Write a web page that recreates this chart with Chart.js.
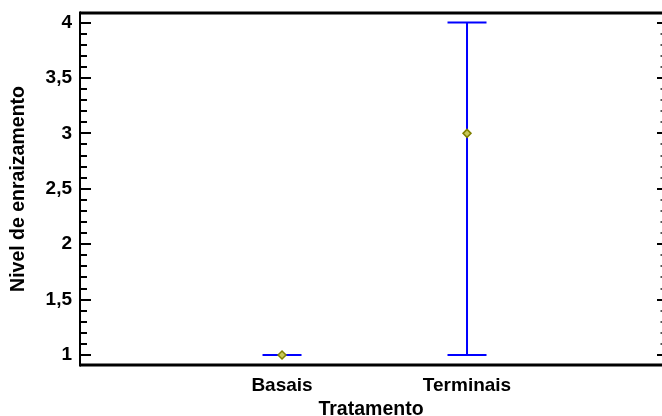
<!DOCTYPE html>
<html>
<head>
<meta charset="utf-8">
<script src="https://cdn.jsdelivr.net/npm/chart.js@4"></script>
<style>
  body { margin: 0; background: #fff; }
  canvas { display: block; }
</style>
</head>
<body>
<canvas id="grafico" width="662" height="416"></canvas>
<script>
// Médias e intervalos por tratamento
const tratamentos = ['Basais', 'Terminais'];
const posicoes = [1, 2];
const medias = [1, 3];
const limInf = [1, 1];
const limSup = [1, 4];
const yTicks = [1, 1.5, 2, 2.5, 3, 3.5, 4];

const fonte = 'Liberation Sans, Arial, sans-serif';

// Barras de erro com traços horizontais nas pontas
const barrasErro = {
  id: 'barrasErro',
  beforeDatasetsDraw(chart) {
    const ctx = chart.ctx;
    const x = chart.scales.x, y = chart.scales.y;
    ctx.save();
    ctx.strokeStyle = '#0000ff';
    ctx.lineWidth = 2;
    posicoes.forEach((p, i) => {
      const px = x.getPixelForValue(p);
      const y0 = y.getPixelForValue(limInf[i]);
      const y1 = y.getPixelForValue(limSup[i]);
      const w = 19.5;
      ctx.beginPath();
      ctx.moveTo(px, y0); ctx.lineTo(px, y1);
      ctx.moveTo(px - w, y0); ctx.lineTo(px + w, y0);
      ctx.moveTo(px - w, y1); ctx.lineTo(px + w, y1);
      ctx.stroke();
    });
    ctx.restore();
  }
};

// Moldura e marcas dos eixos (maiores a cada 0,5, menores a cada 0,1)
const eixos = {
  id: 'eixos',
  afterDraw(chart) {
    const ctx = chart.ctx;
    const a = chart.chartArea;
    const y = chart.scales.y;
    ctx.save();
    ctx.strokeStyle = '#000';
    ctx.lineWidth = 3;
    ctx.beginPath();
    ctx.moveTo(a.left, a.top); ctx.lineTo(a.right, a.top);
    ctx.moveTo(a.left, a.bottom); ctx.lineTo(a.right, a.bottom);
    ctx.stroke();
    ctx.lineWidth = 2;
    ctx.beginPath();
    ctx.moveTo(a.left, a.top - 1.5); ctx.lineTo(a.left, a.bottom + 1.5);
    ctx.stroke();
    for (let k = 10; k <= 40; k++) {
      const v = k / 10;
      const py = Math.round(y.getPixelForValue(v));
      const major = k % 5 === 0;
      ctx.lineWidth = 2;
      ctx.strokeStyle = '#000';
      ctx.beginPath();
      ctx.moveTo(a.left, py); ctx.lineTo(a.left + (major ? 11 : 7), py);
      ctx.stroke();
      ctx.strokeStyle = major ? '#000' : '#555';
      ctx.beginPath();
      ctx.moveTo(a.right, py); ctx.lineTo(a.right - (major ? 5 : 1.5), py);
      ctx.stroke();
    }
    ctx.restore();
  }
};

new Chart(document.getElementById('grafico'), {
  type: 'scatter',
  data: {
    datasets: [{
      data: posicoes.map((p, i) => ({ x: p, y: medias[i] })),
      pointStyle: 'rectRot',
      pointRadius: 4,
      backgroundColor: '#c8c85a',
      borderColor: '#808000',
      borderWidth: 1.5
    }]
  },
  options: {
    responsive: false,
    animation: false,
    layout: { autoPadding: false, padding: { top: 13, right: 0, left: 0, bottom: 0 } },
    plugins: { legend: { display: false }, tooltip: { enabled: false } },
    scales: {
      x: {
        type: 'linear',
        min: -0.092,
        max: 3.054,
        grid: { display: false, drawTicks: false },
        border: { display: false },
        afterBuildTicks: s => { s.ticks = posicoes.map(v => ({ value: v })); },
        afterFit: s => { s.height = 51; s.paddingLeft = 0; s.paddingRight = 0; },
        ticks: {
          padding: 9,
          color: '#000',
          maxRotation: 0,
          font: { family: fonte, size: 19, weight: 'bold' },
          callback: v => tratamentos[posicoes.indexOf(v)]
        },
        title: {
          display: true,
          text: 'Tratamento',
          color: '#000',
          padding: { top: 0, bottom: -3 },
          font: { family: fonte, size: 19.5, weight: 'bold', lineHeight: 1 }
        }
      },
      y: {
        min: 0.91,
        max: 4.086,
        grid: { display: false, drawTicks: false },
        border: { display: false },
        afterBuildTicks: s => { s.ticks = yTicks.map(v => ({ value: v })); },
        afterFit: s => { s.width = 80; s.paddingTop = 0; s.paddingBottom = 0; },
        ticks: {
          padding: 8,
          color: '#000',
          font: { family: fonte, size: 19, weight: 'bold' },
          callback: v => String(v).replace('.', ',')
        },
        title: {
          display: true,
          text: 'Nivel de enraizamento',
          color: '#000',
          padding: { top: 9, bottom: 0 },
          font: { family: fonte, size: 19.5, weight: 'bold', lineHeight: 1 }
        }
      }
    }
  },
  plugins: [barrasErro, eixos]
});
</script>
</body>
</html>
